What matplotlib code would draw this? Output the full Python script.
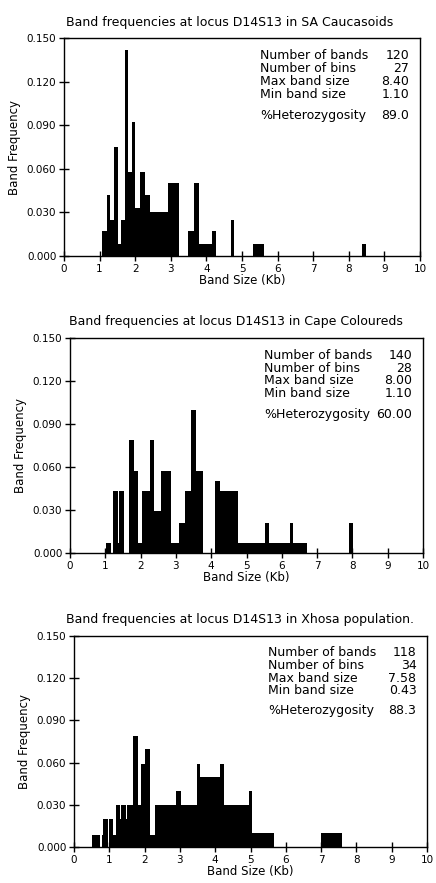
import matplotlib
matplotlib.use('Agg')
import matplotlib.pyplot as plt

# bin edges (Kb) and band frequencies
sa_edges = [1.08, 1.20, 1.30, 1.40, 1.52, 1.60, 1.70, 1.80, 1.90, 2.00, 2.14, 2.28, 2.42,
            2.92, 3.22, 3.48, 3.64, 3.78, 4.16, 4.26, 4.68, 4.78, 5.30, 5.62, 8.38, 8.48]
sa_freq = [0.017, 0.042, 0.025, 0.075, 0.008, 0.025, 0.142, 0.058, 0.092, 0.033, 0.058, 0.042,
           0.030, 0.050, 0, 0.017, 0.050, 0.008, 0.017, 0, 0.025, 0, 0.008, 0, 0.008]

cc_edges = [1.03, 1.15, 1.23, 1.36, 1.39, 1.52, 1.68, 1.81, 1.92, 2.03, 2.27, 2.39, 2.57, 2.86,
            3.09, 3.25, 3.44, 3.56, 3.78, 4.12, 4.25, 4.75, 5.51, 5.63, 6.24, 6.33, 6.71, 7.90, 8.01]
cc_freq = [0.007, 0, 0.043, 0.007, 0.043, 0, 0.079, 0.057, 0.007, 0.043, 0.079, 0.029, 0.057,
           0.007, 0.021, 0.043, 0.100, 0.057, 0, 0.050, 0.043, 0.007, 0.021, 0.007, 0.021, 0.007,
           0, 0.021]

xh_edges = [0.52, 0.74, 0.78, 0.82, 0.95, 1.00, 1.11, 1.19, 1.31, 1.34, 1.46, 1.51, 1.68, 1.81,
            1.91, 2.02, 2.16, 2.30, 2.90, 3.04, 3.48, 3.57, 4.14, 4.24, 4.95, 5.04, 5.66, 7.01, 7.58]
xh_freq = [0.0085, 0, 0.0085, 0.020, 0, 0.020, 0.0085, 0.030, 0.020, 0.030, 0.020, 0.030, 0.079,
           0.030, 0.059, 0.070, 0.0085, 0.030, 0.040, 0.030, 0.059, 0.050, 0.059, 0.030, 0.040,
           0.010, 0, 0.010]

titles = ['Band frequencies at locus D14S13 in SA Caucasoids',
          'Band frequencies at locus D14S13 in Cape Coloureds',
          'Band frequencies at locus D14S13 in Xhosa population.']
stat_labels = ['Number of bands', 'Number of bins', 'Max band size', 'Min band size']
stat_values = [['120', '27', '8.40', '1.10'],
               ['140', '28', '8.00', '1.10'],
               ['118', '34', '7.58', '0.43']]
het_values = ['89.0', '60.00', '88.3']

y_ticks = [0.0, 0.03, 0.06, 0.09, 0.12, 0.15]
x_ticks = list(range(11))

W, H = 436.0, 883.0
# axes boxes in pixels: left, right, top, bottom
boxes = [(64, 420, 38, 256), (70, 423, 338, 553), (74, 427, 636, 847)]
title_centre = [230, 236, 240]

plt.rcParams['font.family'] = 'DejaVu Sans'
fig = plt.figure(figsize=(4.36, 8.83), dpi=100)

data = [(sa_edges, sa_freq), (cc_edges, cc_freq), (xh_edges, xh_freq)]
for i, (edges, freq) in enumerate(data):
    l, r, t, b = boxes[i]
    ax = fig.add_axes([l / W, 1 - b / H, (r - l) / W, (b - t) / H])
    ax.stairs(freq, edges, fill=True, color='black', baseline=0)
    ax.set_xlim(0, 10)
    ax.set_ylim(0, 0.15)
    ax.set_xticks(x_ticks)
    ax.set_yticks(y_ticks)
    ax.set_yticklabels(['%.3f' % v for v in y_ticks])
    ax.tick_params(direction='inout', length=7, width=1, labelsize=7.5, pad=2)
    for s in ax.spines.values():
        s.set_linewidth(1)
    ax.set_title(titles[i], fontsize=9, pad=9, x=(title_centre[i] - l) / (r - l))
    ax.set_xlabel('Band Size (Kb)', fontsize=8.5, labelpad=0)
    ax.set_ylabel('Band Frequency', fontsize=8.5, labelpad=4)

    # summary table in the upper right
    ys = [0.92, 0.86, 0.80, 0.74]
    for lab, val, y in zip(stat_labels, stat_values[i], ys):
        ax.text(0.55, y, lab, transform=ax.transAxes, fontsize=9, va='center', ha='left')
        ax.text(0.97, y, val, transform=ax.transAxes, fontsize=9, va='center', ha='right')
    ax.text(0.55, 0.645, '%Heterozygosity', transform=ax.transAxes, fontsize=9,
            va='center', ha='left')
    ax.text(0.97, 0.645, het_values[i], transform=ax.transAxes, fontsize=9,
            va='center', ha='right')

fig.savefig('out.png', dpi=100)
